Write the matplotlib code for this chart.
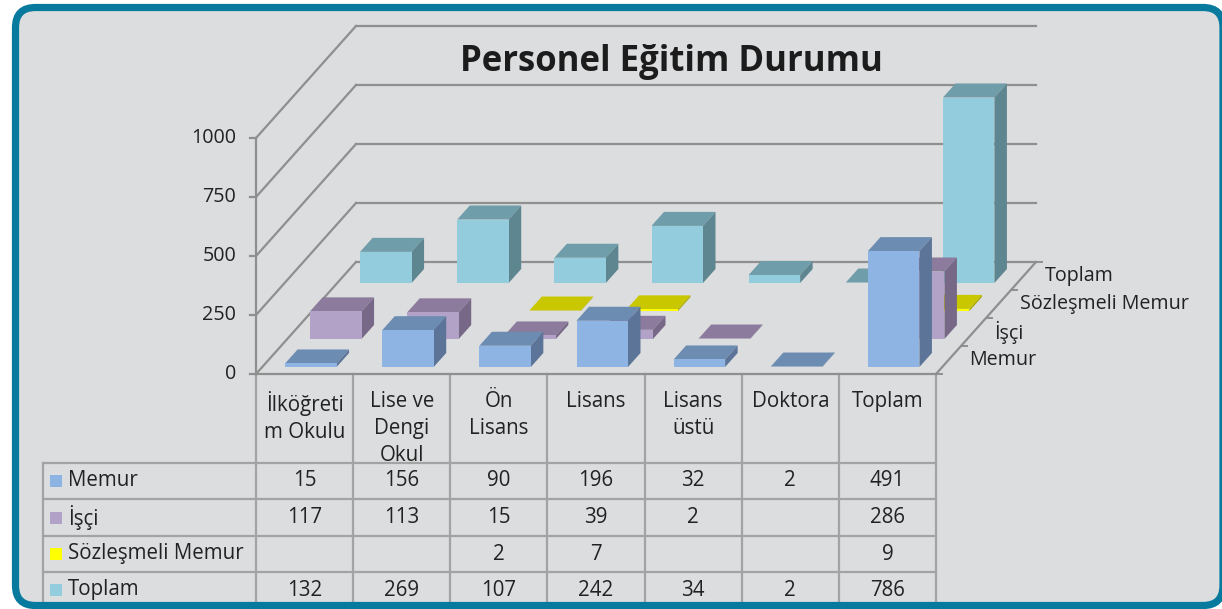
import matplotlib.pyplot as plt
from matplotlib.patches import Polygon, Rectangle, FancyBboxPatch

plt.rcParams['font.family'] = ['Open Sans', 'DejaVu Sans']

# veriler
kategoriler = ["İlköğreti\nm Okulu", "Lise ve\nDengi\nOkul", "Ön\nLisans", "Lisans",
               "Lisans\nüstü", "Doktora", "Toplam"]
seriler = ["Memur", "İşçi", "Sözleşmeli Memur", "Toplam"]
memur = [15, 156, 90, 196, 32, 2, 491]
isci = [117, 113, 15, 39, 2, None, 286]
sozlesmeli = [None, None, 2, 7, None, None, 9]
toplam = [132, 269, 107, 242, 34, 2, 786]
yticks = [0, 250, 500, 750, 1000]

degerler = [memur, isci, sozlesmeli, toplam]
# (on yuz, ust yuz, yan yuz, lejant)
renkler = [("#8eb4e3", "#6c8cb2", "#5b7497", "#8db3e2"),
           ("#b3a2c7", "#8c7b9c", "#776887", "#b3a2c7"),
           ("#ffff00", "#c9c800", "#a8a800", "#ffff00"),
           ("#93cddd", "#6f9da9", "#5e8691", "#93cddd")]

W, H = 1222, 609
X0, X1, Y0 = 256, 936, 374      # on duzlem (piksel)
YPX = 236                        # 0..1000 yuksekligi
colw = (X1 - X0) / len(kategoriler)
DX = 25 / colw                   # bir derinlik dilimi (veri birimi)
DY = 28 / (YPX / 1000)
grid_c = "#8f8f8f"
tab_c = "#a3a3a3"
txt_c = "#222222"
fs = 14.8
fs_ax = 14.2

fig = plt.figure(figsize=(W / 100, H / 100), dpi=100)
fig.patch.set_facecolor("white")

bg = fig.add_axes([0, 0, 1, 1])
bg.set_xlim(0, W)
bg.set_ylim(H, 0)
bg.axis("off")
bg.add_patch(FancyBboxPatch((15.5, 7.5), 1207.5, 598, boxstyle="round,pad=0,rounding_size=20",
                            fc="#dcdddf", ec="none", zorder=0))
bg.add_patch(FancyBboxPatch((15.5, 7.5), 1207.5, 598, boxstyle="round,pad=0,rounding_size=20",
                            fc="none", ec="#087a9e", lw=5.2, zorder=50))

bg.text(671, 62, "Personel Eğitim Durumu", fontsize=25, fontweight="bold",
        color="#1c1c1c", ha="center", va="center")

# grafik ekseni
ax = fig.add_axes([X0 / W, (H - Y0) / H, (X1 - X0) / W, YPX / H])
ax.set_xlim(0, len(kategoriler))
ax.set_ylim(0, 1000)
ax.axis("off")
n = len(kategoriler)
D = len(seriler)

# duvarlar ve izgara
for t in yticks:
    ax.plot([0, D * DX], [t, t + D * DY], color=grid_c, lw=1.6, clip_on=False, zorder=1)
    ax.plot([D * DX, n + D * DX], [t + D * DY, t + D * DY], color=grid_c, lw=1.6,
            clip_on=False, zorder=1)
    ax.plot([0, -6 / colw], [t, t], color=grid_c, lw=1.6, clip_on=False, zorder=1)
    ax.annotate(str(t), xy=(0, t), xytext=(-20, 0), textcoords="offset pixels",
                ha="right", va="center", fontsize=fs_ax, color=txt_c, annotation_clip=False)
ax.plot([0, 0], [0, 1000], color=grid_c, lw=1.6, clip_on=False, zorder=1)
ax.plot([0, n], [0, 0], color=grid_c, lw=1.6, clip_on=False, zorder=1)
ax.plot([n, n + D * DX], [0, D * DY], color=grid_c, lw=1.6, clip_on=False, zorder=1)
for k in range(D + 1):
    ax.plot([n + k * DX, n + k * DX + 6 / colw], [k * DY, k * DY], color=grid_c, lw=1.4,
            clip_on=False, zorder=1)
for k, s in enumerate(seriler):
    ax.annotate(s, xy=(n + (k + 0.5) * DX, (k + 0.5) * DY), xytext=(21, 0),
                textcoords="offset pixels", ha="left", va="center", fontsize=fs_ax,
                color=txt_c, annotation_clip=False)

# cubuklar
bw = 0.53
for k in range(D - 1, -1, -1):
    fc, tc, sc, _ = renkler[k]
    d0, d1 = k + 0.25, k + 0.75
    z = 10 + (D - k) * 3
    for i in range(n - 1, -1, -1):
        v = degerler[k][i]
        if v is None:
            continue
        xl, xr = i + 0.5 - bw / 2, i + 0.5 + bw / 2
        ax.add_patch(Polygon([(xl + d0 * DX, v + d0 * DY), (xr + d0 * DX, v + d0 * DY),
                              (xr + d1 * DX, v + d1 * DY), (xl + d1 * DX, v + d1 * DY)],
                             closed=True, fc=tc, ec="none", clip_on=False, zorder=z))
        ax.add_patch(Polygon([(xr + d0 * DX, d0 * DY), (xr + d1 * DX, d1 * DY),
                              (xr + d1 * DX, v + d1 * DY), (xr + d0 * DX, v + d0 * DY)],
                             closed=True, fc=sc, ec="none", clip_on=False, zorder=z + 1))
        ax.add_patch(Rectangle((xl + d0 * DX, d0 * DY), bw, v, fc=fc, ec="none",
                               clip_on=False, zorder=z + 2))

# veri tablosu
row_y = [463, 499, 536, 572, 609]
LX = 43
for i in range(n + 1):
    x = X0 + i * colw
    bg.plot([x, x], [Y0, H], color=tab_c, lw=1.6, zorder=5)
bg.plot([LX, LX], [row_y[0], H], color=tab_c, lw=1.6, zorder=5)
for y in row_y[:-1]:
    bg.plot([LX, X1], [y, y], color=tab_c, lw=1.6, zorder=5)
for i, c in enumerate(kategoriler):
    bg.text(X0 + (i + 0.5) * colw, 391, c, ha="center", va="top", fontsize=fs,
            linespacing=1.36, color=txt_c)
for k, s in enumerate(seriler):
    yc = (row_y[k] + row_y[k + 1]) / 2
    if k == D - 1:
        yc = row_y[k] + 18
    bg.add_patch(Rectangle((50, yc - 6), 12, 12, fc=renkler[k][3], ec="none", zorder=6))
    bg.text(68, yc, s, ha="left", va="center", fontsize=fs, color=txt_c)
    for i, v in enumerate(degerler[k]):
        if v is not None:
            bg.text(X0 + (i + 0.5) * colw, yc, str(v), ha="center", va="center",
                    fontsize=fs, color=txt_c)

fig.savefig("out.png", dpi=100)
